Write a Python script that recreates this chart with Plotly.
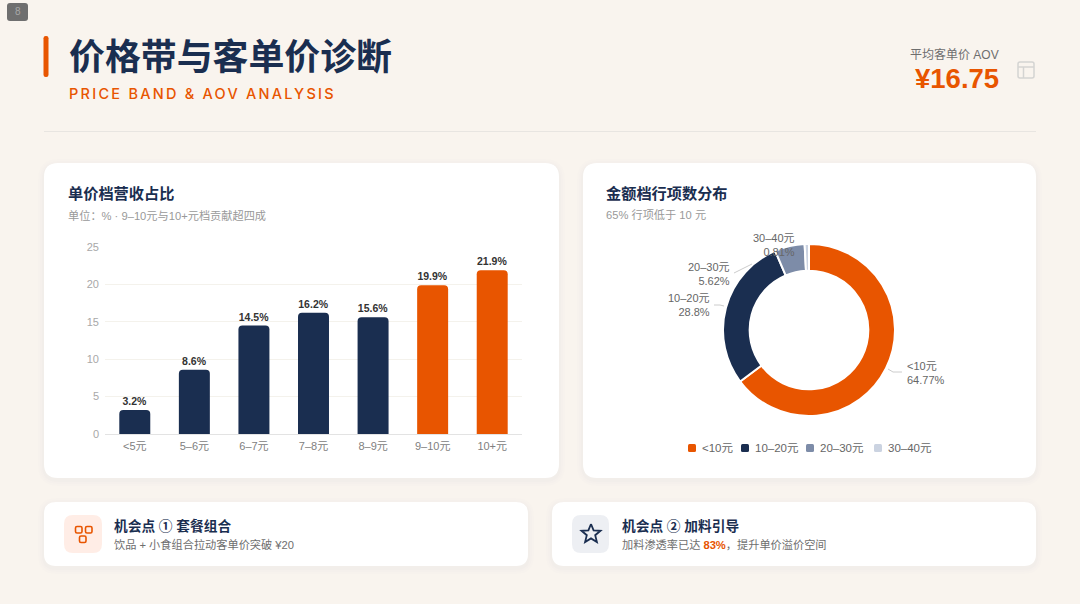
import plotly.graph_objects as go

bar_categories = ["<5元", "5–6元", "6–7元", "7–8元", "8–9元", "9–10元", "10+元"]
bar_values = [3.2, 8.6, 14.5, 16.2, 15.6, 19.9, 21.9]
bar_highlight = [False, False, False, False, False, True, True]
y_ticks = [0, 5, 10, 15, 20, 25]

pie_labels = ["<10元", "10–20元", "20–30元", "30–40元"]
pie_values = [64.77, 28.8, 5.62, 0.81]
pie_value_text = ["64.77%", "28.8%", "5.62%", "0.81%"]

ORANGE = "#E85500"
NAVY = "#1A2E50"
SLATE = "#7D8CA8"
PALE = "#CBD3E1"
BG = "#F9F4EE"
pie_colors = [ORANGE, NAVY, SLATE, PALE]
FONT = "'Liberation Sans', 'Noto Sans CJK SC', sans-serif"

W, H = 1080, 604
X = lambda p: p / W
Y = lambda p: 1 - p / H


def rr_path(x0, y0, x1, y1, r):
    return (
        f"M {X(x0+r)} {Y(y0)} L {X(x1-r)} {Y(y0)} Q {X(x1)} {Y(y0)} {X(x1)} {Y(y0+r)} "
        f"L {X(x1)} {Y(y1-r)} Q {X(x1)} {Y(y1)} {X(x1-r)} {Y(y1)} "
        f"L {X(x0+r)} {Y(y1)} Q {X(x0)} {Y(y1)} {X(x0)} {Y(y1-r)} "
        f"L {X(x0)} {Y(y0+r)} Q {X(x0)} {Y(y0)} {X(x0+r)} {Y(y0)} Z"
    )


shapes = []


def rrect(x0, y0, x1, y1, r, fill="rgba(0,0,0,0)", line=None, lw=0, layer="below", opacity=1):
    shapes.append(dict(type="path", xref="paper", yref="paper", path=rr_path(x0, y0, x1, y1, r),
                       fillcolor=fill, opacity=opacity, layer=layer,
                       line=dict(color=line or "rgba(0,0,0,0)", width=lw)))


def card(x0, y0, x1, y1, r):
    for grow, a in ((6, 0.006), (4, 0.008), (2, 0.010)):
        rrect(x0 - grow, y0 - grow + 2, x1 + grow, y1 + grow + 2, r + grow, fill=f"rgba(26,46,80,{a})")
    rrect(x0, y0, x1, y1, r, fill="#FFFFFF")


def seg(points, color, width):
    path = "M " + " L ".join(f"{X(a)} {Y(b)}" for a, b in points)
    shapes.append(dict(type="path", xref="paper", yref="paper", path=path, layer="above",
                       line=dict(color=color, width=width)))


annotations = []


def text(x, y, s, size, color, anchor="left", bold=False, valign="middle", family=FONT, weight=None):
    f = dict(size=size, color=color, family=family)
    if weight:
        f["weight"] = weight
    annotations.append(dict(xref="paper", yref="paper", x=X(x), y=Y(y), text=f"<b>{s}</b>" if bold else s,
                            showarrow=False, xanchor=anchor, yanchor=valign, align=anchor,
                            font=f, borderpad=0, borderwidth=0))


# header
rrect(7, 3, 28, 21, 3, fill="#6F6F6F")
text(17.5, 12, "8", 10, "#A8A8A8", "center")
rrect(43.5, 36, 48.5, 77, 2.2, fill=ORANGE)
text(68.5, 58, "价格带与客单价诊断", 35.9, NAVY, bold=True)
text(69, 93, "PRICE BAND &amp; AOV ANALYSIS", 14.5, ORANGE, family="Inter, sans-serif", weight=500)
text(999, 55, "平均客单价 AOV", 12, "#6E6E6E", "right")
text(999, 78, "¥16.75", 27.5, ORANGE, "right", bold=True)
rrect(1018, 62, 1034, 78, 2, line="#D4D4D2", lw=1.5)
seg([(1018, 67), (1034, 67)], "#D4D4D2", 1.5)
seg([(1023.5, 67), (1023.5, 78)], "#D4D4D2", 1.5)
seg([(44, 131.5), (1036, 131.5)], "#E8E5E1", 1)

# cards
card(44, 163, 559, 478, 14)
card(583, 163, 1036, 478, 14)
card(44, 502, 528, 566, 12)
card(552, 502, 1036, 566, 12)

text(68, 193.5, "单价档营收占比", 15.2, NAVY, bold=True)
text(68, 215, "单位：% · 9–10元与10+元档贡献超四成", 11.2, "#999999")
text(606, 193.5, "金额档行项数分布", 15.2, NAVY, bold=True)
text(606, 215, "65% 行项低于 10 元", 11.2, "#999999")

# pie labels and leaders
seg([(888, 369), (893, 372), (902, 372)], "#CCCCCC", 1)
seg([(714, 305), (720, 305), (724, 306)], "#CCCCCC", 1)
seg([(734, 273), (752, 264)], "#CCCCCC", 1)
label_pos = [(907, 373, "left"), (709.5, 305.5, "right"), (729.5, 274, "right"), (794.5, 245, "right")]
for (lx, ly, anc), name, val in zip(label_pos, pie_labels, pie_value_text):
    text(lx, ly, f"{name}<br>{val}", 11, "#666666", anc)

# manual legend
legend_x = [688, 741, 806, 874]
for lx, name, col in zip(legend_x, pie_labels, pie_colors):
    rrect(lx, 444, lx + 8, 452, 1.5, fill=col, layer="above")
    text(lx + 14, 448, name, 11.5, "#666666")

# opportunity cards
rrect(64, 515, 102, 553, 9, fill="#FFEDE6", layer="above")
rrect(75.5, 526.5, 82, 533, 1.5, line=ORANGE, lw=1.6, layer="above")
rrect(85.5, 526.5, 92, 533, 1.5, line=ORANGE, lw=1.6, layer="above")
rrect(79.5, 536, 86, 542.5, 1.5, line=ORANGE, lw=1.6, layer="above")
text(114, 526, "机会点 ① 套餐组合", 13.7, NAVY, bold=True)
text(114, 544, "饮品 + 小食组合拉动客单价突破 ¥20", 11.2, "#6E6E6E")

rrect(572, 515, 609, 553, 9, fill="#EDEFF3", layer="above")
star = [(591, 524), (593.6, 530.3), (600.5, 530.8), (595.2, 535.2), (596.9, 542), (591, 538.4),
        (585.1, 542), (586.8, 535.2), (581.5, 530.8), (588.4, 530.3), (591, 524)]
seg(star, NAVY, 1.8)
text(622, 526, "机会点 ② 加料引导", 13.7, NAVY, bold=True)
text(622, 544, f"加料渗透率已达 <span style='color:{ORANGE}'><b>83%</b></span>，提升单价溢价空间", 11.2, "#6E6E6E")

fig = go.Figure()
fig.add_trace(go.Bar(
    x=bar_categories, y=bar_values,
    marker=dict(color=[ORANGE if h else NAVY for h in bar_highlight], line=dict(width=0)),
    text=[f"<b>{v}%</b>" for v in bar_values], textposition="outside", cliponaxis=False,
    textfont=dict(size=10.5, color="#333333", family=FONT), hoverinfo="skip",
))
fig.add_trace(go.Pie(
    labels=pie_labels, values=pie_values, hole=0.69, sort=False, direction="clockwise", rotation=0,
    marker=dict(colors=pie_colors, line=dict(color="#FFFFFF", width=2)),
    textinfo="none", hoverinfo="skip", showlegend=False,
    domain=dict(x=[X(723), X(895)], y=[Y(416), Y(244)]),
))
fig.update_layout(
    width=W, height=H, margin=dict(l=0, r=0, t=0, b=0), autosize=False,
    paper_bgcolor=BG, plot_bgcolor="rgba(0,0,0,0)", showlegend=False,
    bargap=0.48, barcornerradius=4, font=dict(family=FONT),
    shapes=shapes, annotations=annotations,
    xaxis=dict(domain=[X(105), X(522)], type="category", categoryorder="array", categoryarray=bar_categories,
               showgrid=False, showline=True, linecolor="#E3E3E3", linewidth=1, ticks="",
               ticklabelstandoff=2,
               tickfont=dict(size=11, color="#808080", family=FONT), ticklen=0, automargin=False),
    yaxis=dict(domain=[Y(434), Y(247)], range=[0, 25], tickvals=y_ticks, showgrid=True, gridcolor="#F4F2EC",
               gridwidth=1, zeroline=False, showline=False, ticks="", ticklabelstandoff=5,
               tickfont=dict(size=11, color="#A8A8A8", family=FONT), automargin=False),
)
post = """
document.body.style.margin='0';document.body.style.overflow='hidden';
document.querySelectorAll('.annotation-text').forEach(function(t){
  if(t.textContent.indexOf('PRICE')===0){
    var b=t.getBBox();t.style.letterSpacing='2.25px';t.setAttribute('text-anchor','start');
    t.setAttribute('x',b.x);
  }
});
"""
fig.write_html("out.html", post_script=post, config=dict(displayModeBar=False))
